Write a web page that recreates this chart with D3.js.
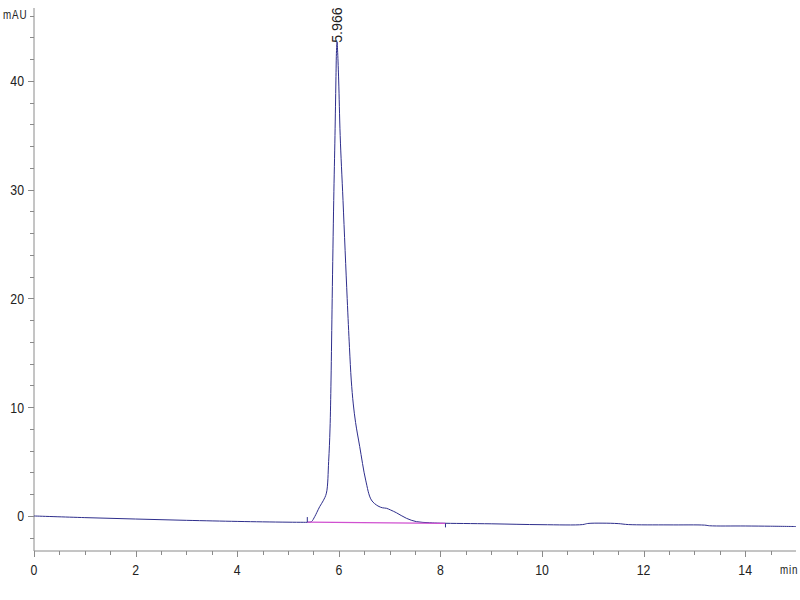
<!DOCTYPE html>
<html><head><meta charset="utf-8">
<script src="https://cdn.jsdelivr.net/npm/d3@7/dist/d3.min.js"></script>
<style>
body{margin:0;background:#fff;}
text{font-family:"Liberation Sans","Arial",sans-serif;}
</style></head>
<body><svg id="c" width="800" height="600"></svg>
<script>
// Chromatogram data (time in min, signal in mAU)
const times = [0, 1, 2, 3, 4, 4.5, 5, 5.3, 5.38, 5.461, 5.526, 5.565, 5.624, 5.693, 5.756, 5.80, 5.827, 5.847, 5.870, 5.90, 5.925, 5.943, 5.955, 5.966, 5.978, 5.998, 6.027, 6.083, 6.165, 6.21, 6.245, 6.285, 6.33, 6.411, 6.529, 6.641, 6.771, 6.863, 6.936, 7.02, 7.133, 7.33, 7.526, 7.79, 8.0, 9, 10, 10.8, 10.9, 11.2, 11.5, 11.7, 12.5, 13.2, 13.3, 14, 14.5, 15];
const signal = [0, -0.15, -0.28, -0.4, -0.5, -0.54, -0.57, -0.58, -0.58, -0.52, -0.06, 0.3, 0.86, 1.4, 2.1, 5, 8, 12.5, 20, 29, 35, 40, 42.8, 43.6, 42.6, 40, 35, 29, 20, 15.5, 12.5, 10.3, 8.6, 6.4, 3.3, 1.47, 0.92, 0.75, 0.71, 0.55, 0.3, -0.21, -0.52, -0.62, -0.66, -0.72, -0.8, -0.79, -0.69, -0.66, -0.7, -0.79, -0.82, -0.84, -0.9, -0.92, -0.94, -0.97];
const baselineTimes = [5.38, 8.1];
const baselineValues = [-0.56, -0.68];
const peakTimes = [5.966];
const peakHeights = [43.6];
const peakLabels = ["5.966"];
const xTickValues = d3.range(0, 15, 0.5);
const xLabelValues = [0, 2, 4, 6, 8, 10, 12, 14];
const yTickValues = d3.range(-2, 47, 2);
const yLabelValues = [0, 10, 20, 30, 40];
const yUnit = "mAU";
const xUnit = "min";

const svg = d3.select("#c");
const x = d3.scaleLinear().domain([0, 15]).range([34, 796]);
const y = d3.scaleLinear().domain([-3.22, 46.71]).range([551, 8]);
const axisColor = "#8a8a8a";
const txt = "#222";
const narrow = 0.82;

function label(g, px, py, s, size, anchor, spacing) {
  g.append("text")
    .attr("transform", `translate(${px},${py}) scale(${narrow},1)`)
    .attr("text-anchor", anchor).attr("font-size", size)
    .attr("letter-spacing", spacing || 0).attr("fill", txt).text(s);
}

// Y axis
const gy = svg.append("g").attr("transform", "translate(34,0)");
gy.append("line").attr("y1", 8).attr("y2", 551).attr("stroke", axisColor);
gy.selectAll("line.t").data(yTickValues).join("line").attr("class","t")
  .attr("x1", d => yLabelValues.includes(d) ? -6 : -4).attr("x2", 0)
  .attr("y1", d => Math.round(y(d))+0.5).attr("y2", d => Math.round(y(d))+0.5)
  .attr("stroke", axisColor);
yLabelValues.forEach(d => label(gy, -10, y(d)+5.5, d, 15, "end"));

// X axis
const gx = svg.append("g").attr("transform", "translate(0,551)");
gx.append("line").attr("x1", 34).attr("x2", 796).attr("stroke", axisColor);
gx.selectAll("line.t").data(xTickValues).join("line").attr("class","t")
  .attr("x1", d => Math.round(x(d))+0.5).attr("x2", d => Math.round(x(d))+0.5)
  .attr("y1", 0).attr("y2", d => xLabelValues.includes(d) ? 6 : 4)
  .attr("stroke", axisColor);
xLabelValues.forEach(d => label(gx, x(d), 24, d, 15, "middle"));

label(svg, 3, 19, yUnit, 12, "start", 1);
label(svg, 780, 574, xUnit, 12, "start", 1);

// Signal
const pts = times.map((t,i) => [t, signal[i]]);
svg.append("path").datum(pts)
  .attr("d", d3.line().x(d => x(d[0])).y(d => y(d[1])).curve(d3.curveCatmullRom.alpha(0.5)))
  .attr("fill","none").attr("stroke","#2e2e8c").attr("stroke-width",1);

// Integration baseline
svg.append("path").datum(baselineTimes.map((t,i)=>[t, baselineValues[i]]))
  .attr("d", d3.line().x(d => x(d[0])).y(d => y(d[1])))
  .attr("fill","none").attr("stroke","#d050d0").attr("stroke-width",1.3);

// Integration event markers
svg.append("line").attr("x1", x(baselineTimes[0])).attr("x2", x(baselineTimes[0]))
  .attr("y1", y(baselineValues[0])).attr("y2", y(baselineValues[0]) - 5)
  .attr("stroke","#2e2e8c");
svg.append("line").attr("x1", x(baselineTimes[1])).attr("x2", x(baselineTimes[1]))
  .attr("y1", y(baselineValues[1])).attr("y2", y(baselineValues[1]) + 4)
  .attr("stroke","#2e2e8c");

// Peak label
peakTimes.forEach((t,i) => {
  svg.append("text")
    .attr("transform", `translate(${x(t)+5},${y(peakHeights[i])+1}) rotate(-90) scale(0.95,1)`)
    .attr("font-size", 15).attr("fill", txt).text(peakLabels[i]);
});
</script></body></html>
